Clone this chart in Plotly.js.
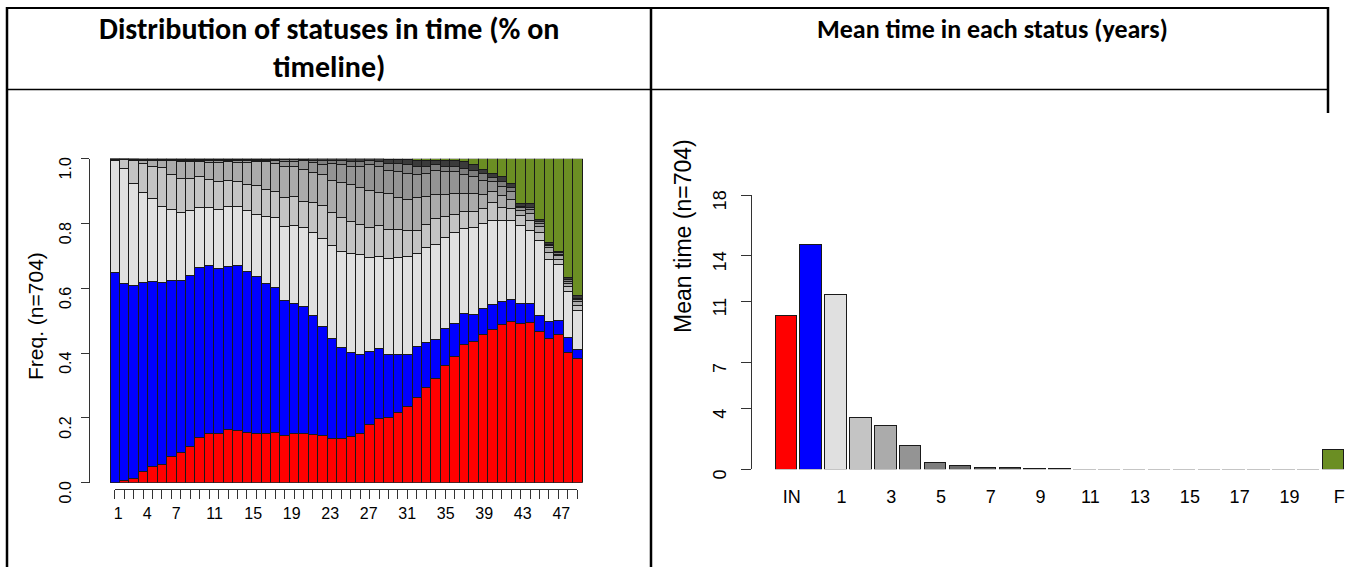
<!DOCTYPE html>
<html><head><meta charset="utf-8">
<script src="https://cdn.plot.ly/plotly-3.0.1.min.js"></script>
<style>html,body{margin:0;padding:0;background:#fff;}#chart{width:1348px;height:567px;}</style>
</head><body><div id="chart"></div>
<script>
// ---------- data: left plot (state distribution per time point) ----------
const timepoints = [1,2,3,4,5,6,7,8,9,10,11,12,13,14,15,16,17,18,19,20,21,22,23,24,25,26,27,28,29,30,31,32,33,34,35,36,37,38,39,40,41,42,43,44,45,46,47,48,49,50];
const labeledTimes = [1,4,7,11,15,19,23,27,31,35,39,43,47];
const stIN = [0,.008,.014,.035,.049,.057,.081,.094,.113,.140, .153,.153,.164,.162,.156,.151,.153,.156,.145,.151, .151,.149,.145,.135,.135,.143,.151,.180,.199,.202, .218,.235,.264,.293,.322,.361,.390,.427,.436,.458, .474,.489,.497,.492,.494,.467,.446,.456,.402,.384];
const st0 = [.649,.607,.595,.584,.573,.562,.542,.530,.527,.525, .516,.509,.503,.507,.495,.485,.462,.446,.417,.403, .392,.368,.337,.311,.281,.259,.245,.224,.216,.193, .177,.161,.156,.140,.119,.114,.101,.094,.083,.079, .077,.070,.069,.062,.060,.050,.051,.045,.047,.026];
const st1 = [.345,.355,.315,.277,.255,.235,.219,.211,.199,.184, .180,.182,.185,.183,.188,.192,.206,.215,.228,.240, .245,.255,.272,.285,.297,.306,.307,.292,.283,.298, .301,.302,.288,.292,.293,.282,.281,.264,.269,.264, .258,.250,.243,.241,.223,.230,.193,.173,.141,.123];
const st2 = [.004,.027,.069,.090,.100,.119,.108,.104,.100,.095, .087,.087,.082,.079,.082,.088,.085,.081,.090,.089, .081,.093,.101,.104,.105,.098,.095,.092,.097,.090, .084,.079,.070,.073,.082,.064,.056,.051,.048,.046, .056,.041,.036,.030,.033,.026,.022,.016,.015,.015];
const st3 = [.001,.002,.004,.007,.016,.020,.043,.051,.051,.047, .052,.057,.057,.057,.067,.075,.085,.088,.097,.092, .099,.093,.095,.097,.109,.113,.114,.113,.100,.110, .100,.098,.102,.085,.074,.067,.065,.057,.057,.041, .035,.035,.030,.015,.020,.017,.013,.010,.010,.010];
const st4 = [.001,.001,.002,.004,.004,.004,.004,.006,.006,.005, .007,.007,.005,.007,.007,.005,.005,.008,.014,.015, .025,.030,.033,.054,.054,.058,.065,.080,.082,.070, .080,.078,.070,.072,.073,.072,.067,.057,.051,.046, .030,.030,.025,.008,.013,.010,.007,.005,.007,.007];
const st5 = [0,0,.001,.002,.002,.002,.002,.003,.003,.003, .003,.003,.002,.003,.003,.002,.002,.004,.006,.007, .004,.008,.010,.008,.012,.015,.015,.012,.013,.023, .026,.028,.027,.022,.018,.017,.015,.020,.021,.021, .012,.015,.012,.005,.007,.006,.004,.004,.005,.005];
const st6plus = [0,0,0,.001,.001,.001,.001,.001,.001,.001, .002,.002,.002,.002,.002,.002,.002,.002,.003,.003, .003,.004,.007,.006,.007,.008,.008,.007,.010,.013, .013,.017,.018,.018,.014,.017,.018,.021,.016,.012, .013,.014,.012,.009,.012,.007,.005,.004,.007,.007];
const stF = [0,0,0,0,0,0,0,0,0,0, 0,0,0,0,0,0,0,0,0,0, 0,0,0,0,0,0,0,0,0,.001, .001,.002,.005,.005,.005,.006,.007,.009,.019,.033, .045,.056,.076,.138,.138,.187,.259,.287,.366,.423];
const freqTicks = [0,0.2,0.4,0.6,0.8,1];
const freqTickText = ['0.0','0.2','0.4','0.6','0.8','1.0'];

// ---------- data: right plot (mean time per status) ----------
const statusCats = ['IN','0','1','2','3','4','5','6','7','8','9','10','11','12','13','14','15','16','17','18','19','20','F'];
const meanTime = [10.08,14.76,11.50,3.39,2.89,1.53,0.43,0.22,0.10,0.09,0.08,0.08,0.02,0.02,0.02,0.01,0.01,0.01,0.01,0.01,0.01,0.01,1.31];
const statusTickLabels = ['IN','1','3','5','7','9','11','13','15','17','19','F'];
const meanTicks = [0,4,7,11,14,18];

// ---------- styles ----------
const statusColors = ['#FF0000','#0000FF','#E0E0E0','#C4C4C4','#ABABAB','#949494','#7E7E7E','#6B6B6B','#5A5A5A','#4C4C4C','#404040','#363636','#2E2E2E','#292929','#252525','#222222','#1F1F1F','#1D1D1D','#1B1B1B','#191919','#181818','#171717','#6B8E23'];
const leftSeries = [
  {name:'IN', v:stIN, c:'#FF0000'}, {name:'0', v:st0, c:'#0000FF'}, {name:'1', v:st1, c:'#E0E0E0'},
  {name:'2', v:st2, c:'#C4C4C4'}, {name:'3', v:st3, c:'#ABABAB'}, {name:'4', v:st4, c:'#949494'},
  {name:'5', v:st5, c:'#7E7E7E'}, {name:'6+', v:st6plus, c:'#3A3A3A'}, {name:'F', v:stF, c:'#6B8E23'}
];

const W = 1348, H = 567;
const px = v => v / W;
const py = v => 1 - v / H;
const edge = '#1a1a1a', axc = '#333';
const rFont = 'Liberation Sans, Arial, Helvetica, sans-serif';
const hFont = 'Carlito, "Liberation Sans Narrow", "Open Sans", sans-serif';

// left geometry (px)
const Lg = {axisX: 90, right: 600, barLeft: 110, slot: 9.44, y0: 482.7, y1: 158.7, tickY: 489, labStart: 118.3, labSlot: 9.63};
const c1 = Lg.barLeft + Lg.slot / 2;
const n = timepoints.length;
// right geometry (px)
const Rg = {axisX: 752, right: 1348, c0: 785.8, slot: 24.88, y0: 469.3, y1: 195};

const traces = leftSeries.map(s => ({
  type:'bar', x: timepoints, y: s.v, name: s.name, width: 1,
  marker:{color: s.c, line:{color: edge, width: 1}},
  xaxis:'x', yaxis:'y', hoverinfo:'skip', showlegend:false
}));
traces.push({type:'scatter', x: timepoints, y: timepoints.map(() => 0), mode:'markers', marker:{opacity:0}, xaxis:'x2', yaxis:'y2', hoverinfo:'skip', showlegend:false});
traces.push({type:'scatter', x: timepoints, y: timepoints.map(() => 0), mode:'markers', marker:{opacity:0}, xaxis:'x3', yaxis:'y2', hoverinfo:'skip', showlegend:false});
traces.push({
  type:'bar', x: statusCats, y: meanTime, width: 0.86,
  marker:{color: statusColors, line:{color: edge, width: 1}},
  xaxis:'x4', yaxis:'y3', hoverinfo:'skip', showlegend:false
});

const hline = (x0, x1, y, w) => ({type:'line', xref:'paper', yref:'paper', x0: px(x0), x1: px(x1), y0: py(y), y1: py(y), line:{color:'#000', width: w}});
const vline = (x, y0, y1, w) => ({type:'line', xref:'paper', yref:'paper', x0: px(x), x1: px(x), y0: py(y0), y1: py(y1), line:{color:'#000', width: w}});

const layout = {
  width: W, height: H, margin:{l:0, r:0, t:0, b:0},
  paper_bgcolor:'#fff', plot_bgcolor:'rgba(0,0,0,0)', showlegend:false, barmode:'stack',
  font:{family: rFont, color:'#000'},
  xaxis:{domain:[px(Lg.axisX), px(Lg.right)], range:[1 + (Lg.axisX - c1)/Lg.slot, 1 + (Lg.right - c1)/Lg.slot],
    showgrid:false, zeroline:false, showline:false, showticklabels:false, ticks:''},
  yaxis:{domain:[py(Lg.y0), py(Lg.y1)], range:[0,1], showgrid:false, zeroline:false,
    showline:true, linecolor:axc, linewidth:1, ticks:'outside', ticklen:8, tickcolor:axc, tickwidth:1,
    tickmode:'array', tickvals: freqTicks, ticktext: freqTickText, tickangle:-90,
    tickfont:{size:16, family:rFont}, ticklabelshift:12, ticklabelstandoff:4},
  xaxis2:{domain:[px(c1), px(c1 + (n-1)*Lg.slot)], range:[1, n], anchor:'y2', showgrid:false, zeroline:false,
    showline:true, linecolor:axc, linewidth:1, ticks:'outside', ticklen:9, tickcolor:axc, tickwidth:1,
    tickmode:'array', tickvals: timepoints, showticklabels:false},
  yaxis2:{domain:[py(Lg.tickY), py(Lg.tickY) + 0.002], range:[0,1], visible:false},
  xaxis3:{domain:[px(Lg.labStart), px(Lg.labStart + (n-1)*Lg.labSlot)], range:[1, n], anchor:'y2', showgrid:false, zeroline:false,
    showline:false, ticks:'', tickmode:'array', tickvals: labeledTimes, ticktext: labeledTimes.map(String), tickangle:0,
    tickfont:{size:16, family:rFont}, ticklabelstandoff:13},
  xaxis4:{domain:[px(Rg.axisX), px(Rg.right)], type:'category',
    range:[(Rg.axisX - Rg.c0)/Rg.slot, (Rg.right - Rg.c0)/Rg.slot], anchor:'y3', showgrid:false, zeroline:false,
    showline:false, ticks:'', tickmode:'array', tickvals: statusTickLabels, ticktext: statusTickLabels, tickangle:0,
    tickfont:{size:18, family:rFont}, ticklabelshift:6, ticklabelstandoff:15},
  yaxis3:{domain:[py(Rg.y0), py(Rg.y1)], range:[0,18], anchor:'x4', showgrid:false, zeroline:false,
    showline:true, linecolor:axc, linewidth:1, ticks:'outside', ticklen:10, tickcolor:axc, tickwidth:1,
    tickmode:'array', tickvals: meanTicks, ticktext: meanTicks.map(String), tickangle:-90,
    tickfont:{size:18, family:rFont}, ticklabelshift:8, ticklabelstandoff:8},
  shapes:[
    hline(6, 1329, 8, 2),
    vline(7, 7, 567, 2.5),
    vline(651, 7, 567, 2.5),
    vline(1328, 7, 113, 2.5),
    hline(7, 1328, 89.5, 1.6)
  ],
  annotations:[
    {xref:'paper', yref:'paper', x: px(329), y: py(29), xanchor:'center', yanchor:'middle', showarrow:false,
      text:'Distribution of statuses in time (% on', font:{family:hFont, size:30, weight:700, color:'#000'}},
    {xref:'paper', yref:'paper', x: px(329), y: py(66), xanchor:'center', yanchor:'middle', showarrow:false,
      text:'timeline)', font:{family:hFont, size:30, weight:700, color:'#000'}},
    {xref:'paper', yref:'paper', x: px(992), y: py(29), xanchor:'center', yanchor:'middle', showarrow:false,
      text:'Mean time in each status (years)', font:{family:hFont, size:26, weight:700, color:'#000'}},
    {xref:'paper', yref:'paper', x: px(35), y: py(316), xanchor:'center', yanchor:'middle', showarrow:false,
      text:'Freq. (n=704)', textangle:-90, font:{family:rFont, size:21, color:'#000'}},
    {xref:'paper', yref:'paper', x: px(683), y: py(236), xanchor:'center', yanchor:'middle', showarrow:false,
      text:'Mean time (n=704)', textangle:-90, font:{family:rFont, size:23, color:'#000'}}
  ]
};

Plotly.newPlot('chart', traces, layout, {staticPlot:true, displayModeBar:false});
</script>
</body></html>
